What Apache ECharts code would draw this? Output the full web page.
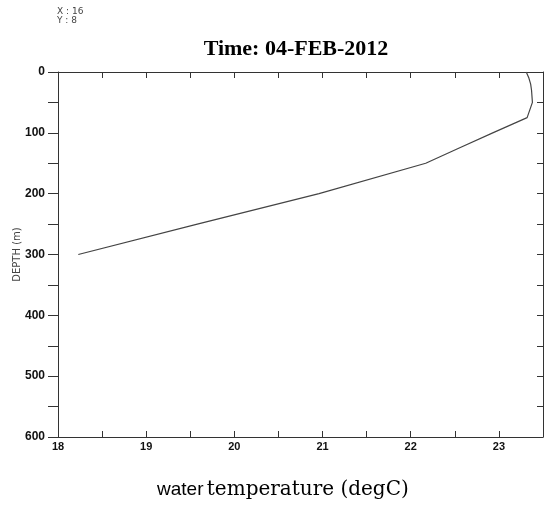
<!DOCTYPE html>
<html>
<head>
<meta charset="utf-8">
<script src="https://cdn.jsdelivr.net/npm/echarts@6/dist/echarts.min.js"></script>
<style>html,body{margin:0;padding:0;background:#fff}#c{width:548px;height:508px}</style>
</head>
<body>
<div id="c"></div>
<script>
// Data
const depths = [0, 10, 20, 30, 50, 75, 100, 125, 150, 200, 250, 300];
const temps  = [23.31, 23.34, 23.36, 23.37, 23.38, 23.32, 22.93, 22.55, 22.17, 20.96, 19.58, 18.23];
const xTicks = [18, 19, 20, 21, 22, 23];
const yTicks = [0, 100, 200, 300, 400, 500, 600];
const titleText = 'Time: 04-FEB-2012';

const chart = echarts.init(document.getElementById('c'), null, {renderer: 'canvas'});
const axisColor = '#333';
const lbl = {fontFamily: 'Liberation Sans, Arial, sans-serif', fontWeight: 'bold', color: '#111'};

chart.setOption({
  animation: false,
  backgroundColor: '#fff',
  grid: {left: 58, right: 5, top: 72, bottom: 71, containLabel: false, outerBoundsMode: 'none'},
  title: {
    text: titleText, left: 291, top: 33, textAlign: 'center',
    textStyle: {fontFamily: 'Liberation Serif, Times New Roman, serif', fontWeight: 'bold', fontSize: 22, color: '#000'}
  },
  graphic: [
    {type: 'text', left: 57, top: 7, style: {text: 'X : 16\nY : 8', font: '9px "DejaVu Sans", sans-serif', fill: '#444', lineHeight: 9}},
    {type: 'text', left: 157, top: 480, style: {
      text: '{a|water} {b|temperature (degC)}',
      rich: {
        a: {fontFamily: 'Liberation Sans, Arial, sans-serif', fontSize: 19, color: '#111'},
        b: {fontFamily: 'DejaVu Serif, serif', fontSize: 20, color: '#111'}
      }
    }}
  ],
  xAxis: [
    {
      type: 'value', position: 'bottom', min: 18, max: 23.5, interval: 0.5,
      axisLine: {show: true, onZero: false, lineStyle: {color: axisColor, width: 1}},
      axisTick: {show: true, inside: true, length: 6, lineStyle: {color: axisColor}},
      axisLabel: Object.assign({fontSize: 11, margin: 4, formatter: v => (xTicks.indexOf(v) >= 0 ? String(v) : '')}, lbl),
      splitLine: {show: false}
    },
    {
      type: 'value', position: 'top', min: 18, max: 23.5, interval: 0.5,
      axisLine: {show: true, onZero: false, lineStyle: {color: axisColor, width: 1}},
      axisTick: {show: true, inside: true, length: 6, lineStyle: {color: axisColor}},
      axisLabel: {show: false},
      splitLine: {show: false}
    }
  ],
  yAxis: [
    {
      type: 'value', position: 'left', inverse: true, min: 0, max: 600, interval: 50,
      name: 'DEPTH (m)', nameLocation: 'middle', nameGap: 36, nameRotate: 90, nameMoveOverlap: false,
      nameTextStyle: {fontFamily: 'DejaVu Sans, sans-serif', fontSize: 10, color: '#444'},
      axisLine: {show: true, onZero: false, lineStyle: {color: axisColor, width: 1}},
      axisTick: {show: true, inside: false, length: 10, lineStyle: {color: axisColor}},
      axisLabel: Object.assign({fontSize: 12, margin: 13, formatter: v => (yTicks.indexOf(v) >= 0 ? String(v) : '')}, lbl),
      splitLine: {show: false}
    },
    {
      type: 'value', position: 'right', inverse: true, min: 0, max: 600, interval: 50,
      axisLine: {show: true, onZero: false, lineStyle: {color: axisColor, width: 1}},
      axisTick: {show: true, inside: true, length: 6, lineStyle: {color: axisColor}},
      axisLabel: {show: false},
      splitLine: {show: false}
    }
  ],
  series: [{
    type: 'line', xAxisIndex: 0, yAxisIndex: 0,
    data: depths.map((d, i) => [temps[i], d]),
    showSymbol: false, symbol: 'none',
    lineStyle: {color: '#444', width: 1.2},
    silent: true
  }]
});
</script>
</body>
</html>
